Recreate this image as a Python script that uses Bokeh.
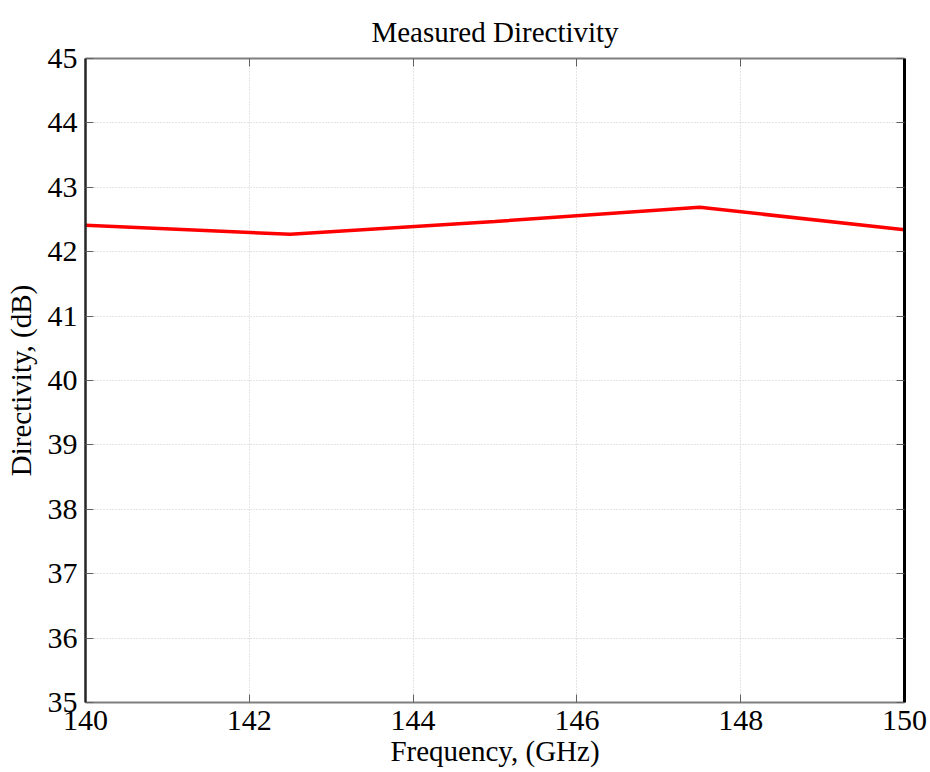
from bokeh.plotting import figure
from bokeh.models import LinearAxis, Range1d, FixedTicker
from bokeh.embed import file_html
from bokeh.resources import INLINE

# Data
freq_ghz = [140.0, 142.5, 145.0, 147.5, 150.0]
directivity_db = [42.41, 42.27, 42.47, 42.69, 42.34]

x_ticks = [140, 142, 144, 146, 148, 150]
y_ticks = [35, 36, 37, 38, 39, 40, 41, 42, 43, 44, 45]

FONT = "Liberation Serif"

p = figure(width=930, height=772, output_backend="svg", toolbar_location=None,
           x_range=Range1d(140, 150), y_range=Range1d(35, 45),
           x_axis_location=None, y_axis_location=None,
           min_border_left=85, min_border_right=26, min_border_top=58, min_border_bottom=70)
p.background_fill_color = "white"
p.border_fill_color = "white"
p.outline_line_color = None

p.title.text = "Measured Directivity"
p.title.align = "center"
p.title.text_font = FONT
p.title.text_font_size = "29px"
p.title.text_font_style = "normal"
p.title.text_color = "black"
p.title.standoff = 21

def style_axis(ax, ticks, labels=True, line_color="#404040", line_width=2):
    ax.ticker = FixedTicker(ticks=ticks)
    ax.major_tick_in = 8
    ax.major_tick_out = 0
    ax.minor_tick_in = 0
    ax.minor_tick_out = 0
    ax.major_tick_line_color = "#606060"
    ax.major_tick_line_width = 1
    ax.axis_line_color = line_color
    ax.axis_line_width = line_width
    ax.major_label_text_font = FONT
    ax.major_label_text_color = "black"
    ax.axis_label_text_font = FONT
    ax.axis_label_text_font_style = "normal"
    ax.axis_label_text_color = "black"
    ax.axis_label_text_font_size = "29px"
    ax.major_label_text_font_size = "30px"
    if labels:
        ax.major_label_standoff = 8
    else:
        ax.major_label_overrides = {t: "" for t in ticks}
        ax.major_label_standoff = 0

bx = LinearAxis(axis_label="Frequency, (GHz)")
tx = LinearAxis()
ly = LinearAxis(axis_label="Directivity, (dB)")
ry = LinearAxis()

style_axis(bx, x_ticks, True, "#7f7f7f", 2)
style_axis(tx, x_ticks, False, "#7f7f7f", 2)
style_axis(ly, y_ticks, True, "#262626", 2.5)
style_axis(ry, y_ticks, False, "#000000", 3)
bx.axis_label_standoff = 2
ly.axis_label_standoff = 8

p.add_layout(bx, "below")
p.add_layout(tx, "above")
p.add_layout(ly, "left")
p.add_layout(ry, "right")

for g, ticks in ((p.xgrid, x_ticks), (p.ygrid, y_ticks)):
    g.ticker = FixedTicker(ticks=ticks)
    g.grid_line_color = "#c8c8c8"
    g.grid_line_dash = "1 2"
    g.grid_line_width = 1

p.line(freq_ghz, directivity_db, line_color="#ff0000", line_width=3.5)

open("out.html", "w").write(file_html(p, INLINE))
